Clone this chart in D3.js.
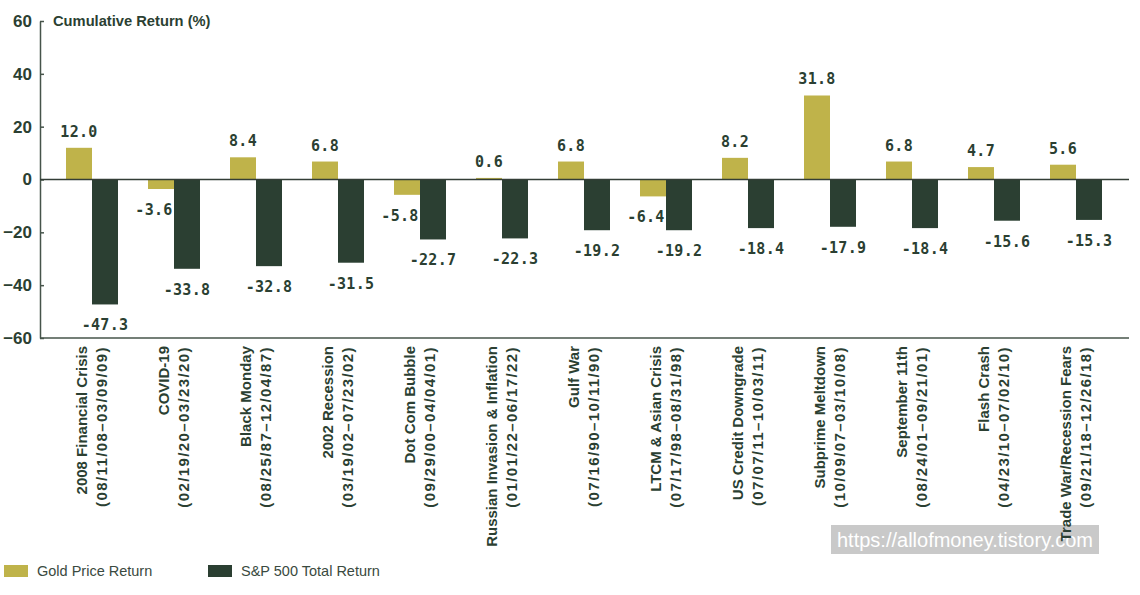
<!DOCTYPE html>
<html>
<head>
<meta charset="utf-8">
<script src="https://cdn.jsdelivr.net/npm/d3@7"></script>
<style>
  body { margin: 0; background: #fff; }
  svg { display: block; }
</style>
</head>
<body>
<div id="chart"></div>
<script>
// chart data
var events = ["2008 Financial Crisis", "COVID-19", "Black Monday", "2002 Recession", "Dot Com Bubble",
    "Russian Invasion & Inflation", "Gulf War", "LTCM & Asian Crisis", "US Credit Downgrade",
    "Subprime Meltdown", "September 11th", "Flash Crash", "Trade War/Recession Fears"];
var periods = ["(08/11/08–03/09/09)", "(02/19/20–03/23/20)", "(08/25/87–12/04/87)", "(03/19/02–07/23/02)",
    "(09/29/00–04/04/01)", "(01/01/22–06/17/22)", "(07/16/90–10/11/90)", "(07/17/98–08/31/98)",
    "(07/07/11–10/03/11)", "(10/09/07–03/10/08)", "(08/24/01–09/21/01)", "(04/23/10–07/02/10)",
    "(09/21/18–12/26/18)"];
var goldReturn = [12.0, -3.6, 8.4, 6.8, -5.8, 0.6, 6.8, -6.4, 8.2, 31.8, 6.8, 4.7, 5.6];
var spReturn = [-47.3, -33.8, -32.8, -31.5, -22.7, -22.3, -19.2, -19.2, -18.4, -17.9, -18.4, -15.6, -15.3];
var yTicks = [-60, -40, -20, 0, 20, 40, 60];
var seriesNames = ["Gold Price Return", "S&P 500 Total Return"];

var svgWidth = 1140;
var svgHeight = 595;
var gold = "#bfb34a";
var dark = "#2b3f32";
var axisColor = "#46544a";
var sans = "'Liberation Sans', Arial, sans-serif";
var mono = "'DejaVu Sans Mono', 'Liberation Mono', monospace";

var svg = d3.select("#chart")
    .append("svg")
    .attr("width", svgWidth)
    .attr("height", svgHeight);

var rows = events.map(function (e, i) {
    return { name: e, period: periods[i], gold: goldReturn[i], sp: spReturn[i] };
});

// scales
var x = d3.scaleBand()
    .domain(events)
    .range([51, 1117]);

var barW = 26;
var xSub = d3.scaleBand()
    .domain(["gold", "sp"])
    .range([x.bandwidth() / 2 - barW, x.bandwidth() / 2 + barW]);

var y = d3.scaleLinear()
    .domain([-60, 60])
    .range([338, 21]);

// watermark box sits behind the labels
svg.append("rect")
    .attr("x", 831)
    .attr("y", 525)
    .attr("width", 268)
    .attr("height", 29)
    .attr("fill", "#c9c9c9");
svg.append("text")
    .attr("x", 965)
    .attr("y", 547)
    .attr("text-anchor", "middle")
    .style("font-family", sans)
    .style("font-size", "20px")
    .style("fill", "#fff")
    .text("https://allofmoney.tistory.com");

// y axis
var leftAxis = d3.axisLeft(y)
    .tickValues(yTicks)
    .tickSizeInner(-4)
    .tickSizeOuter(0)
    .tickPadding(8);

var yAxisG = svg.append("g")
    .attr("transform", "translate(40,0)")
    .call(leftAxis);
yAxisG.select(".domain").attr("stroke", axisColor).attr("stroke-width", 1.5);
yAxisG.selectAll(".tick line").attr("stroke", axisColor).attr("stroke-width", 1.5);
yAxisG.selectAll(".tick text")
    .style("font-family", sans)
    .style("font-weight", "bold")
    .style("font-size", "17px")
    .style("fill", dark);

// bottom baseline
svg.append("line")
    .attr("x1", 40).attr("x2", 1129)
    .attr("y1", y(-60)).attr("y2", y(-60))
    .attr("stroke", axisColor)
    .attr("stroke-width", 1.5);

// title
svg.append("text")
    .attr("x", 53)
    .attr("y", 26)
    .style("font-family", sans)
    .style("font-weight", "bold")
    .style("font-size", "14.7px")
    .style("fill", dark)
    .text("Cumulative Return (%)");

// bars
var groups = svg.selectAll(".evt")
    .data(rows)
    .enter()
    .append("g")
    .attr("class", "evt")
    .attr("transform", d => `translate(${x(d.name)},0)`);

groups.append("rect")
    .attr("x", xSub("gold"))
    .attr("width", barW)
    .attr("y", d => y(Math.max(0, d.gold)))
    .attr("height", d => Math.abs(y(d.gold) - y(0)))
    .attr("fill", gold);

groups.append("rect")
    .attr("x", xSub("sp"))
    .attr("width", barW)
    .attr("y", d => y(Math.max(0, d.sp)))
    .attr("height", d => Math.abs(y(d.sp) - y(0)))
    .attr("fill", dark);

// zero line
svg.append("line")
    .attr("x1", 40).attr("x2", 1129)
    .attr("y1", y(0)).attr("y2", y(0))
    .attr("stroke", "#333d36")
    .attr("stroke-width", 1.5);

// value labels
groups.append("text")
    .attr("x", d => xSub("gold") + barW / 2 + (d.gold < 0 ? -7 : 0))
    .attr("y", d => d.gold >= 0 ? y(d.gold) - 11 : y(d.gold) + 26)
    .attr("text-anchor", "middle")
    .style("font-family", mono)
    .style("font-weight", "bold")
    .style("font-size", "15px")
    .style("letter-spacing", "0.3px")
    .style("fill", dark)
    .text(d => d.gold.toFixed(1));

groups.append("text")
    .attr("x", xSub("sp") + barW / 2)
    .attr("y", d => y(d.sp) + 26)
    .attr("text-anchor", "middle")
    .style("font-family", mono)
    .style("font-weight", "bold")
    .style("font-size", "15px")
    .style("letter-spacing", "0.3px")
    .style("fill", dark)
    .text(d => d.sp.toFixed(1));

// category labels (rotated)
var catG = groups.append("g")
    .attr("transform", `translate(${x.bandwidth() / 2},346) rotate(-90)`);

catG.append("text")
    .attr("x", 0)
    .attr("y", -10)
    .attr("dy", "0.35em")
    .attr("text-anchor", "end")
    .style("font-family", sans)
    .style("font-weight", "bold")
    .style("font-size", "15px")
    .style("fill", dark)
    .text(d => d.name);

catG.append("text")
    .attr("x", 0)
    .attr("y", 10)
    .attr("dy", "0.35em")
    .attr("text-anchor", "end")
    .style("font-family", sans)
    .style("font-weight", "bold")
    .style("font-size", "15px")
    .style("letter-spacing", "1.4px")
    .style("fill", dark)
    .text(d => d.period);

// legend
var legend = svg.selectAll(".legend")
    .data(seriesNames)
    .enter()
    .append("g")
    .attr("class", "legend")
    .attr("transform", (d, i) => `translate(${4 + i * 204},565)`);

legend.append("rect")
    .attr("width", 24)
    .attr("height", 12)
    .attr("fill", (d, i) => i === 0 ? gold : dark);

legend.append("text")
    .attr("x", 33)
    .attr("y", 6)
    .attr("dy", "0.35em")
    .style("font-family", sans)
    .style("font-size", "14.5px")
    .style("fill", "#3a4a40")
    .text(d => d);
</script>
</body>
</html>
